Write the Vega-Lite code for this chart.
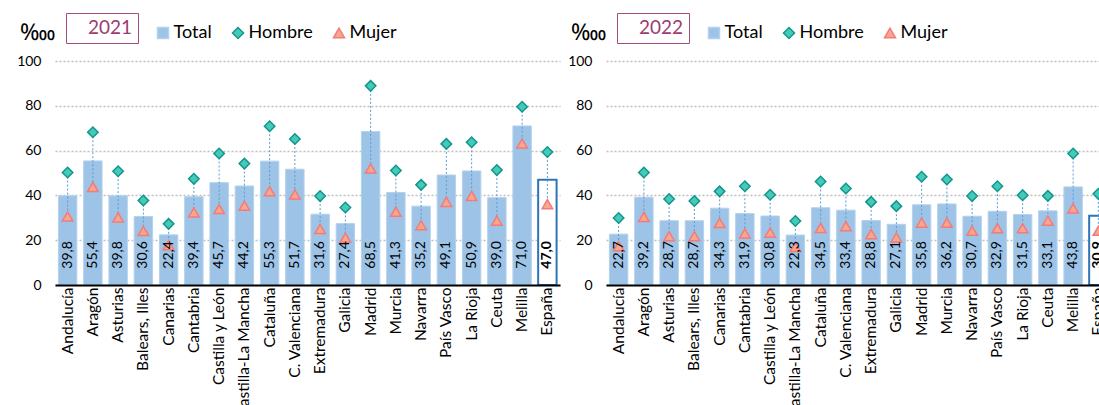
{
  "$schema": "https://vega.github.io/schema/vega-lite/v6.json",
  "padding": {"left": 16, "top": 12, "right": 0, "bottom": 0},
  "spacing": 7,
  "config": {
    "font": "Lato",
    "view": {"stroke": null},
    "locale": {"number": {"decimal": ",", "thousands": ".", "grouping": [3], "currency": ["", " €"]}}
  },
  "datasets": {
    "d": [
      {"year": 2021, "region": "Andalucía", "Total": 39.8, "Hombre": 50.2, "Mujer": 30.6},
      {"year": 2021, "region": "Aragón", "Total": 55.4, "Hombre": 68.2, "Mujer": 43.8},
      {"year": 2021, "region": "Asturias", "Total": 39.8, "Hombre": 50.8, "Mujer": 30.2},
      {"year": 2021, "region": "Balears, Illes", "Total": 30.6, "Hombre": 37.7, "Mujer": 24.1},
      {"year": 2021, "region": "Canarias", "Total": 22.4, "Hombre": 27.3, "Mujer": 17.8},
      {"year": 2021, "region": "Cantabria", "Total": 39.4, "Hombre": 47.4, "Mujer": 32.4},
      {"year": 2021, "region": "Castilla y León", "Total": 45.7, "Hombre": 58.7, "Mujer": 33.9},
      {"year": 2021, "region": "Castilla-La Mancha", "Total": 44.2, "Hombre": 54.2, "Mujer": 35.4},
      {"year": 2021, "region": "Cataluña", "Total": 55.3, "Hombre": 70.9, "Mujer": 41.9},
      {"year": 2021, "region": "C. Valenciana", "Total": 51.7, "Hombre": 65.2, "Mujer": 40.4},
      {"year": 2021, "region": "Extremadura", "Total": 31.6, "Hombre": 39.7, "Mujer": 25.0},
      {"year": 2021, "region": "Galicia", "Total": 27.4, "Hombre": 34.6, "Mujer": 21.1},
      {"year": 2021, "region": "Madrid", "Total": 68.5, "Hombre": 88.9, "Mujer": 52.0},
      {"year": 2021, "region": "Murcia", "Total": 41.3, "Hombre": 51.1, "Mujer": 32.7},
      {"year": 2021, "region": "Navarra", "Total": 35.2, "Hombre": 44.7, "Mujer": 26.7},
      {"year": 2021, "region": "País Vasco", "Total": 49.1, "Hombre": 63.0, "Mujer": 37.1},
      {"year": 2021, "region": "La Rioja", "Total": 50.9, "Hombre": 63.7, "Mujer": 39.8},
      {"year": 2021, "region": "Ceuta", "Total": 39.0, "Hombre": 51.3, "Mujer": 28.7},
      {"year": 2021, "region": "Melilla", "Total": 71.0, "Hombre": 79.6, "Mujer": 63.2},
      {"year": 2021, "region": "España", "Total": 47.0, "Hombre": 59.4, "Mujer": 36.1},
      {"year": 2022, "region": "Andalucía", "Total": 22.7, "Hombre": 29.9, "Mujer": 17.3},
      {"year": 2022, "region": "Aragón", "Total": 39.2, "Hombre": 50.2, "Mujer": 30.4},
      {"year": 2022, "region": "Asturias", "Total": 28.7, "Hombre": 38.4, "Mujer": 21.8},
      {"year": 2022, "region": "Balears, Illes", "Total": 28.7, "Hombre": 37.5, "Mujer": 21.8},
      {"year": 2022, "region": "Canarias", "Total": 34.3, "Hombre": 41.8, "Mujer": 27.7},
      {"year": 2022, "region": "Cantabria", "Total": 31.9, "Hombre": 44.1, "Mujer": 23.0},
      {"year": 2022, "region": "Castilla y León", "Total": 30.8, "Hombre": 40.3, "Mujer": 23.4},
      {"year": 2022, "region": "Castilla-La Mancha", "Total": 22.3, "Hombre": 28.6, "Mujer": 17.0},
      {"year": 2022, "region": "Cataluña", "Total": 34.5, "Hombre": 46.2, "Mujer": 25.5},
      {"year": 2022, "region": "C. Valenciana", "Total": 33.4, "Hombre": 43.1, "Mujer": 26.3},
      {"year": 2022, "region": "Extremadura", "Total": 28.8, "Hombre": 37.1, "Mujer": 22.7},
      {"year": 2022, "region": "Galicia", "Total": 27.1, "Hombre": 35.2, "Mujer": 21.2},
      {"year": 2022, "region": "Madrid", "Total": 35.8, "Hombre": 48.3, "Mujer": 27.8},
      {"year": 2022, "region": "Murcia", "Total": 36.2, "Hombre": 47.1, "Mujer": 27.8},
      {"year": 2022, "region": "Navarra", "Total": 30.7, "Hombre": 39.7, "Mujer": 24.2},
      {"year": 2022, "region": "País Vasco", "Total": 32.9, "Hombre": 44.1, "Mujer": 25.3},
      {"year": 2022, "region": "La Rioja", "Total": 31.5, "Hombre": 40.1, "Mujer": 25.3},
      {"year": 2022, "region": "Ceuta", "Total": 33.1, "Hombre": 39.8, "Mujer": 28.7},
      {"year": 2022, "region": "Melilla", "Total": 43.8, "Hombre": 58.7, "Mujer": 34.2},
      {"year": 2022, "region": "España", "Total": 30.9, "Hombre": 40.7, "Mujer": 24.2}
    ]
  },
  "resolve": {
    "scale": {"x": "independent", "y": "independent", "fill": "independent", "shape": "independent", "stroke": "independent", "strokeDash": "independent"},
    "legend": {"fill": "independent", "shape": "independent", "stroke": "independent", "strokeDash": "independent"}
  },
  "hconcat": [
    {
      "width": 505,
      "height": 224,
      "data": {"name": "d"},
      "transform": [{"filter": "datum.year == 2021"}],
      "encoding": {
        "x": {
          "field": "region", "type": "nominal", "sort": null,
          "scale": {"paddingInner": 0.27, "paddingOuter": 0.135},
          "axis": {"title": null, "labelAngle": 270, "labelFontSize": 15.5, "labelColor": "#000000", "ticks": false, "tickSize": 0, "labelPadding": 2, "domainColor": "#000000", "domainWidth": 2, "zindex": 1, "grid": false}
        }
      },
      "layer": [
        {
          "transform": [{"fold": ["Total"], "as": ["serie", "valor"]}],
          "mark": {"type": "bar"},
          "encoding": {
            "y": {
              "field": "valor", "type": "quantitative", "scale": {"domain": [0, 100]},
              "axis": {"title": "‱", "titleAngle": 0, "titleAlign": "left", "titleBaseline": "alphabetic", "titleX": -36, "titleY": -22, "titleFontSize": 23, "titleFontWeight": "normal", "titleColor": "#000000", "values": [0, 20, 40, 60, 80, 100], "grid": true, "gridDash": [2, 2], "gridColor": "#BFBFBF", "gridWidth": 1.5, "domain": false, "ticks": false, "tickSize": 0, "labelPadding": 14, "labelFontSize": 14, "labelColor": "#000000"}
            },
            "fill": {
              "condition": {"test": "datum.region === 'España'", "value": "#FFFFFF"},
              "field": "serie", "type": "nominal",
              "scale": {"domain": ["Total", "Hombre", "Mujer"], "range": ["#9DC3E6", "#45CABA", "#F8A78C"]},
              "legend": {"orient": "none", "legendX": 99, "legendY": -37, "direction": "horizontal", "columns": 3, "title": null, "labelFontSize": 18, "labelColor": "#000000", "symbolSize": 121, "symbolStrokeWidth": 1.5, "columnPadding": 17, "labelOffset": 1.5, "padding": 0}
            },
            "stroke": {
              "condition": {"test": "datum.region === 'España'", "value": "#2E75B6"},
              "field": "serie", "type": "nominal",
              "scale": {"domain": ["Total", "Hombre", "Mujer"], "range": ["#B4D2EE", "#12968C", "#F27B7B"]},
              "legend": {"orient": "none", "legendX": 99, "legendY": -37, "direction": "horizontal", "columns": 3, "title": null, "labelFontSize": 18, "labelColor": "#000000", "symbolSize": 121, "symbolStrokeWidth": 1.5, "columnPadding": 17, "labelOffset": 1.5, "padding": 0}
            },
            "strokeWidth": {"condition": {"test": "datum.region === 'España'", "value": 2}, "value": 1}
          }
        },
        {
          "mark": {"type": "rule", "strokeWidth": 1, "color": "#5B9BD5"},
          "encoding": {
            "y": {"field": "Hombre", "type": "quantitative"},
            "y2": {"field": "Mujer"},
            "strokeDash": {
              "field": "year", "type": "nominal", "scale": {"range": [[2, 2]]},
              "legend": {"orient": "none", "legendX": 11, "legendY": -48, "title": null, "strokeColor": "#A24C7B", "fillColor": "#FFFFFF", "padding": 5, "labelFontSize": 19, "labelColor": "#9B3B6F", "symbolType": "circle", "symbolSize": 0, "symbolOpacity": 0, "symbolStrokeWidth": 0, "labelOffset": -2, "labelExpr": "datum.label + '\u00a0\u00a0'"}
            }
          }
        },
        {
          "transform": [{"fold": ["Hombre", "Mujer"], "as": ["serie", "valor"]}],
          "mark": {"type": "point", "filled": true, "size": 110, "strokeWidth": 1.5, "opacity": 1},
          "encoding": {
            "y": {"field": "valor", "type": "quantitative"},
            "fill": {"field": "serie", "type": "nominal"},
            "stroke": {"field": "serie", "type": "nominal"},
            "shape": {
              "field": "serie", "type": "nominal",
              "scale": {"domain": ["Total", "Hombre", "Mujer"], "range": ["square", "diamond", "triangle-up"]},
              "legend": {"orient": "none", "legendX": 99, "legendY": -37, "direction": "horizontal", "columns": 3, "title": null, "labelFontSize": 18, "labelColor": "#000000", "symbolSize": 121, "symbolStrokeWidth": 1.5, "columnPadding": 17, "labelOffset": 1.5, "padding": 0}
            }
          }
        },
        {
          "transform": [{"filter": "datum.region !== 'España'"}],
          "mark": {"type": "text", "angle": 270, "align": "left", "baseline": "middle", "fontSize": 14, "color": "#000000"},
          "encoding": {
            "y": {"datum": 7.3},
            "text": {"field": "Total", "type": "quantitative", "format": ".1f"}
          }
        },
        {
          "transform": [{"filter": "datum.region === 'España'"}],
          "mark": {"type": "text", "angle": 270, "align": "left", "baseline": "middle", "fontSize": 14, "fontWeight": "bold", "color": "#000000"},
          "encoding": {
            "y": {"datum": 7.3},
            "text": {"field": "Total", "type": "quantitative", "format": ".1f"}
          }
        }
      ]
    },
    {
      "width": 505,
      "height": 224,
      "data": {"name": "d"},
      "transform": [{"filter": "datum.year == 2022"}],
      "encoding": {
        "x": {
          "field": "region", "type": "nominal", "sort": null,
          "scale": {"paddingInner": 0.27, "paddingOuter": 0.135},
          "axis": {"title": null, "labelAngle": 270, "labelFontSize": 15.5, "labelColor": "#000000", "ticks": false, "tickSize": 0, "labelPadding": 2, "domainColor": "#000000", "domainWidth": 2, "zindex": 1, "grid": false}
        }
      },
      "layer": [
        {
          "transform": [{"fold": ["Total"], "as": ["serie", "valor"]}],
          "mark": {"type": "bar"},
          "encoding": {
            "y": {
              "field": "valor", "type": "quantitative", "scale": {"domain": [0, 100]},
              "axis": {"title": "‱", "titleAngle": 0, "titleAlign": "left", "titleBaseline": "alphabetic", "titleX": -36, "titleY": -22, "titleFontSize": 23, "titleFontWeight": "normal", "titleColor": "#000000", "values": [0, 20, 40, 60, 80, 100], "grid": true, "gridDash": [2, 2], "gridColor": "#BFBFBF", "gridWidth": 1.5, "domain": false, "ticks": false, "tickSize": 0, "labelPadding": 14, "labelFontSize": 14, "labelColor": "#000000"}
            },
            "fill": {
              "condition": {"test": "datum.region === 'España'", "value": "#FFFFFF"},
              "field": "serie", "type": "nominal",
              "scale": {"domain": ["Total", "Hombre", "Mujer"], "range": ["#9DC3E6", "#45CABA", "#F8A78C"]},
              "legend": {"orient": "none", "legendX": 99, "legendY": -37, "direction": "horizontal", "columns": 3, "title": null, "labelFontSize": 18, "labelColor": "#000000", "symbolSize": 121, "symbolStrokeWidth": 1.5, "columnPadding": 17, "labelOffset": 1.5, "padding": 0}
            },
            "stroke": {
              "condition": {"test": "datum.region === 'España'", "value": "#2E75B6"},
              "field": "serie", "type": "nominal",
              "scale": {"domain": ["Total", "Hombre", "Mujer"], "range": ["#B4D2EE", "#12968C", "#F27B7B"]},
              "legend": {"orient": "none", "legendX": 99, "legendY": -37, "direction": "horizontal", "columns": 3, "title": null, "labelFontSize": 18, "labelColor": "#000000", "symbolSize": 121, "symbolStrokeWidth": 1.5, "columnPadding": 17, "labelOffset": 1.5, "padding": 0}
            },
            "strokeWidth": {"condition": {"test": "datum.region === 'España'", "value": 2}, "value": 1}
          }
        },
        {
          "mark": {"type": "rule", "strokeWidth": 1, "color": "#5B9BD5"},
          "encoding": {
            "y": {"field": "Hombre", "type": "quantitative"},
            "y2": {"field": "Mujer"},
            "strokeDash": {
              "field": "year", "type": "nominal", "scale": {"range": [[2, 2]]},
              "legend": {"orient": "none", "legendX": 11, "legendY": -48, "title": null, "strokeColor": "#A24C7B", "fillColor": "#FFFFFF", "padding": 5, "labelFontSize": 19, "labelColor": "#9B3B6F", "symbolType": "circle", "symbolSize": 0, "symbolOpacity": 0, "symbolStrokeWidth": 0, "labelOffset": -2, "labelExpr": "datum.label + '\u00a0\u00a0'"}
            }
          }
        },
        {
          "transform": [{"fold": ["Hombre", "Mujer"], "as": ["serie", "valor"]}],
          "mark": {"type": "point", "filled": true, "size": 110, "strokeWidth": 1.5, "opacity": 1},
          "encoding": {
            "y": {"field": "valor", "type": "quantitative"},
            "fill": {"field": "serie", "type": "nominal"},
            "stroke": {"field": "serie", "type": "nominal"},
            "shape": {
              "field": "serie", "type": "nominal",
              "scale": {"domain": ["Total", "Hombre", "Mujer"], "range": ["square", "diamond", "triangle-up"]},
              "legend": {"orient": "none", "legendX": 99, "legendY": -37, "direction": "horizontal", "columns": 3, "title": null, "labelFontSize": 18, "labelColor": "#000000", "symbolSize": 121, "symbolStrokeWidth": 1.5, "columnPadding": 17, "labelOffset": 1.5, "padding": 0}
            }
          }
        },
        {
          "transform": [{"filter": "datum.region !== 'España'"}],
          "mark": {"type": "text", "angle": 270, "align": "left", "baseline": "middle", "fontSize": 14, "color": "#000000"},
          "encoding": {
            "y": {"datum": 7.3},
            "text": {"field": "Total", "type": "quantitative", "format": ".1f"}
          }
        },
        {
          "transform": [{"filter": "datum.region === 'España'"}],
          "mark": {"type": "text", "angle": 270, "align": "left", "baseline": "middle", "fontSize": 14, "fontWeight": "bold", "color": "#000000"},
          "encoding": {
            "y": {"datum": 7.3},
            "text": {"field": "Total", "type": "quantitative", "format": ".1f"}
          }
        }
      ]
    }
  ]
}
